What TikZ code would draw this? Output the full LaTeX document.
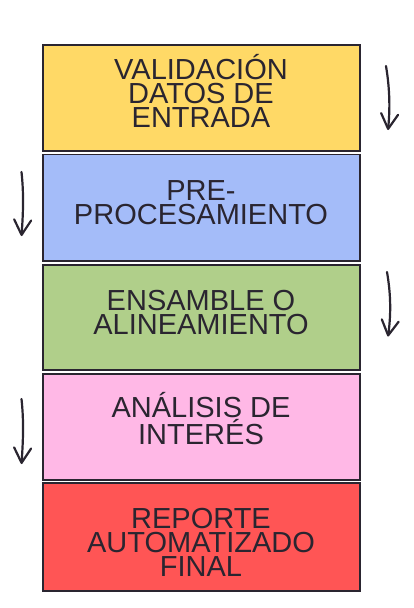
\documentclass[tikz,border=0pt]{standalone}
\usepackage{fontspec}
\setmainfont{Liberation Sans}
\usetikzlibrary{arrows.meta}
\definecolor{ink}{HTML}{2A2530}
\definecolor{cyellow}{HTML}{FFD966}
\definecolor{cblue}{HTML}{A4BCF9}
\definecolor{cgreen}{HTML}{B0CF8A}
\definecolor{cpink}{HTML}{FFB8E6}
\definecolor{cred}{HTML}{FF5555}
\begin{document}
\begin{tikzpicture}[x=1pt,y=-1pt,
  box/.style={draw=ink, line width=1.6pt, rectangle, inner sep=0pt, outer sep=0pt, minimum width=317pt},
  lbl/.style={text=ink, font=\fontsize{29}{24}\selectfont, align=center, inner sep=0pt, anchor=base},
  flow/.style={draw=ink, line width=2.2pt, line cap=round, -{Straight Barb[length=15pt,width=17pt,line cap=round,line join=round]}}]
\useasboundingbox (0,0) rectangle (413,608);
\node[box, fill=cyellow, minimum height=106pt] (b1) at (201.3,97.8) {};
\node[box, fill=cblue, minimum height=106.5pt] (b2) at (201.3,207.6) {};
\node[box, fill=cgreen, minimum height=105pt] (b3) at (201.3,317.5) {};
\node[box, fill=cpink, minimum height=106pt] (b4) at (201.3,427) {};
\node[box, fill=cred, minimum height=108pt] (b5) at (201.3,537) {};
\node[lbl] (t1) at (201,127.7) {VALIDACIÓN\\DATOS DE\\ENTRADA};
\node[lbl] (t2) at (201,224.3) {PRE-\\PROCESAMIENTO};
\node[lbl] (t3) at (201,334) {ENSAMBLE O\\ALINEAMIENTO};
\node[lbl] (t4) at (201,444.3) {ANÁLISIS DE\\INTERÉS};
\node[lbl] (t5) at (201,576.7) {REPORTE\\AUTOMATIZADO\\FINAL};
\coordinate (a1s) at (386,66);
\coordinate (a1e) at (388,130);
\coordinate (a2s) at (21.5,172);
\coordinate (a2e) at (21.5,236);
\coordinate (a3s) at (387,272);
\coordinate (a3e) at (388,336.5);
\coordinate (a4s) at (21.5,399);
\coordinate (a4e) at (21.5,464);
\draw[flow] (a1s) .. controls (390,90) and (390,110) .. (a1e);
\draw[flow] (a2s) .. controls (24,195) and (23,215) .. (a2e);
\draw[flow] (a3s) .. controls (391,295) and (391,315) .. (a3e);
\draw[flow] (a4s) .. controls (24,422) and (23,442) .. (a4e);
\end{tikzpicture}
\end{document}
